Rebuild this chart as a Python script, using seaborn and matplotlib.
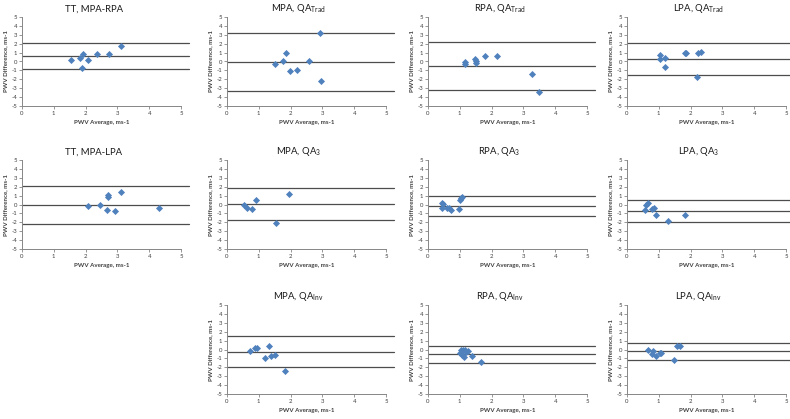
import matplotlib
matplotlib.use('Agg')
import matplotlib.pyplot as plt
import pandas as pd
import seaborn as sns

sns.set_style('white')
plt.rcParams['font.family'] = ['Lato', 'DejaVu Sans']
plt.rcParams['axes.unicode_minus'] = False

MARKER_BLUE = '#4F81BD'
LINE_GREY = '#4d4d4d'
AXIS_GREY = '#868686'

# Bland-Altman data: PWV average (x), PWV difference (y), limits (upper, mean, lower)
tt_rpa_avg = [1.55, 1.83, 1.93, 1.90, 2.09, 2.37, 2.73, 3.11]
tt_rpa_diff = [0.22, 0.44, 0.85, -0.74, 0.22, 0.85, 0.81, 1.78]
tt_rpa_limits = [2.04, 0.59, -0.85]

mpa_trad_avg = [1.52, 1.75, 1.87, 1.99, 2.19, 2.57, 2.91, 2.95]
mpa_trad_diff = [-0.26, 0.07, 0.97, -1.12, -0.97, 0.07, 3.25, -2.24]
mpa_trad_limits = [3.21, -0.03, -3.27]

rpa_trad_avg = [1.15, 1.17, 1.47, 1.50, 1.51, 1.79, 2.17, 3.26, 3.49]
rpa_trad_diff = [-0.11, -0.30, 0.26, 0.07, -0.15, 0.67, 0.60, -1.42, -3.48]
rpa_trad_limits = [2.21, -0.49, -3.18]

lpa_trad_avg = [1.04, 1.03, 1.18, 1.19, 1.82, 1.85, 2.22, 2.34, 2.20]
lpa_trad_diff = [0.69, 0.25, 0.34, -0.65, 0.98, 0.90, 0.95, 1.10, -1.76]
lpa_trad_limits = [2.10, 0.31, -1.53]

tt_lpa_avg = [2.07, 2.46, 2.69, 2.71, 2.67, 2.92, 3.12, 4.30]
tt_lpa_diff = [-0.18, -0.11, 0.88, 1.10, -0.63, -0.70, 1.43, -0.40]
tt_lpa_limits = [2.06, -0.11, -2.24]

mpa_qa3_avg = [0.55, 0.63, 0.78, 0.90, 1.54, 1.96]
mpa_qa3_diff = [-0.07, -0.34, -0.52, 0.49, -2.06, 1.16]
mpa_qa3_limits = [1.84, 0.02, -1.76]

rpa_qa3_avg = [0.44, 0.45, 0.61, 0.66, 0.72, 0.97, 1.00, 1.04, 1.08, 0.46]
rpa_qa3_diff = [0.15, -0.41, -0.41, -0.35, -0.64, -0.56, 0.56, 0.71, 0.86, 0.05]
rpa_qa3_limits = [0.94, -0.15, -1.24]

lpa_qa3_avg = [0.58, 0.60, 0.66, 0.79, 0.85, 0.92, 1.30, 1.82]
lpa_qa3_diff = [-0.63, -0.04, 0.19, -0.56, -0.34, -1.23, -1.83, -1.16]
lpa_qa3_limits = [0.52, -0.71, -1.94]

mpa_inv_avg = [0.73, 0.89, 0.94, 1.31, 1.20, 1.37, 1.50, 1.83]
mpa_inv_diff = [-0.19, 0.22, 0.15, 0.41, -0.93, -0.70, -0.63, -2.44]
mpa_inv_limits = [1.48, -0.26, -2.00]

rpa_inv_avg = [1.00, 1.04, 1.07, 1.11, 1.13, 1.16, 1.21, 1.26, 1.39, 1.67]
rpa_inv_diff = [-0.44, 0.00, -0.60, -0.11, -0.85, 0.00, -0.30, -0.19, -0.70, -1.44]
rpa_inv_limits = [0.44, -0.56, -1.56]

lpa_inv_avg = [0.66, 0.78, 0.82, 0.91, 1.05, 1.08, 1.48, 1.57, 1.67]
lpa_inv_diff = [0.00, -0.49, -0.15, -0.75, -0.41, -0.34, -1.23, 0.37, 0.37]
lpa_inv_limits = [0.78, -0.22, -1.23]

titles = [
    'TT, MPA-RPA', r'MPA, QA$_\mathregular{Trad}$', r'RPA, QA$_\mathregular{Trad}$', r'LPA, QA$_\mathregular{Trad}$',
    'TT, MPA-LPA', r'MPA, QA$_\mathregular{3}$', r'RPA, QA$_\mathregular{3}$', r'LPA, QA$_\mathregular{3}$',
    r'MPA, QA$_\mathregular{Inv}$', r'RPA, QA$_\mathregular{Inv}$', r'LPA, QA$_\mathregular{Inv}$',
]

panels = [
    (tt_rpa_avg, tt_rpa_diff, tt_rpa_limits),
    (mpa_trad_avg, mpa_trad_diff, mpa_trad_limits),
    (rpa_trad_avg, rpa_trad_diff, rpa_trad_limits),
    (lpa_trad_avg, lpa_trad_diff, lpa_trad_limits),
    (tt_lpa_avg, tt_lpa_diff, tt_lpa_limits),
    (mpa_qa3_avg, mpa_qa3_diff, mpa_qa3_limits),
    (rpa_qa3_avg, rpa_qa3_diff, rpa_qa3_limits),
    (lpa_qa3_avg, lpa_qa3_diff, lpa_qa3_limits),
    (mpa_inv_avg, mpa_inv_diff, mpa_inv_limits),
    (rpa_inv_avg, rpa_inv_diff, rpa_inv_limits),
    (lpa_inv_avg, lpa_inv_diff, lpa_inv_limits),
]

# grid slots (row, col); bottom-left slot stays empty
slots = [(0, 0), (0, 1), (0, 2), (0, 3),
         (1, 0), (1, 1), (1, 2), (1, 3),
         (2, 1), (2, 2), (2, 3)]

W, H = 790, 419
col_left = [22, 227, 428, 627]
row_top = [17, 160, 305]
ax_w, ax_h = 159, 89

fig = plt.figure(figsize=(W / 100, H / 100), dpi=100)

for (avg, diff, limits), title, (r, c) in zip(panels, titles, slots):
    rect = [col_left[c] / W, 1 - (row_top[r] + ax_h) / H, ax_w / W, ax_h / H]
    ax = fig.add_axes(rect)
    df = pd.DataFrame({'avg': avg, 'diff': diff})
    for v in limits:
        ax.axhline(v, xmin=0, xmax=1.05, color=LINE_GREY, lw=0.9, clip_on=False, zorder=1)
    sns.scatterplot(data=df, x='avg', y='diff', ax=ax, marker='D', s=13,
                    color=MARKER_BLUE, edgecolor=MARKER_BLUE, linewidth=0, zorder=3)
    ax.set_xlim(0, 5)
    ax.set_ylim(-5, 5)
    ax.set_xticks(range(0, 6))
    ax.set_yticks(range(-5, 6))
    ax.tick_params(axis='both', labelsize=4.3, length=2, width=0.6, color=AXIS_GREY,
                   labelcolor='#404040', pad=1.5, direction='out', bottom=True, left=True)
    for s in ['top', 'right']:
        ax.spines[s].set_visible(False)
    for s in ['left', 'bottom']:
        ax.spines[s].set_color(AXIS_GREY)
        ax.spines[s].set_linewidth(0.7)
    ax.set_xlabel('PWV Average, ms-1', fontsize=4.4, fontweight='bold', color='#404040', labelpad=3)
    ax.set_ylabel('PWV Difference, ms-1', fontsize=4.4, fontweight='bold', color='#404040', labelpad=2)
    ax.set_title(title, fontsize=6.8, pad=4, color='#1a1a1a', x=0.45)

fig.savefig('out.png', dpi=100)
